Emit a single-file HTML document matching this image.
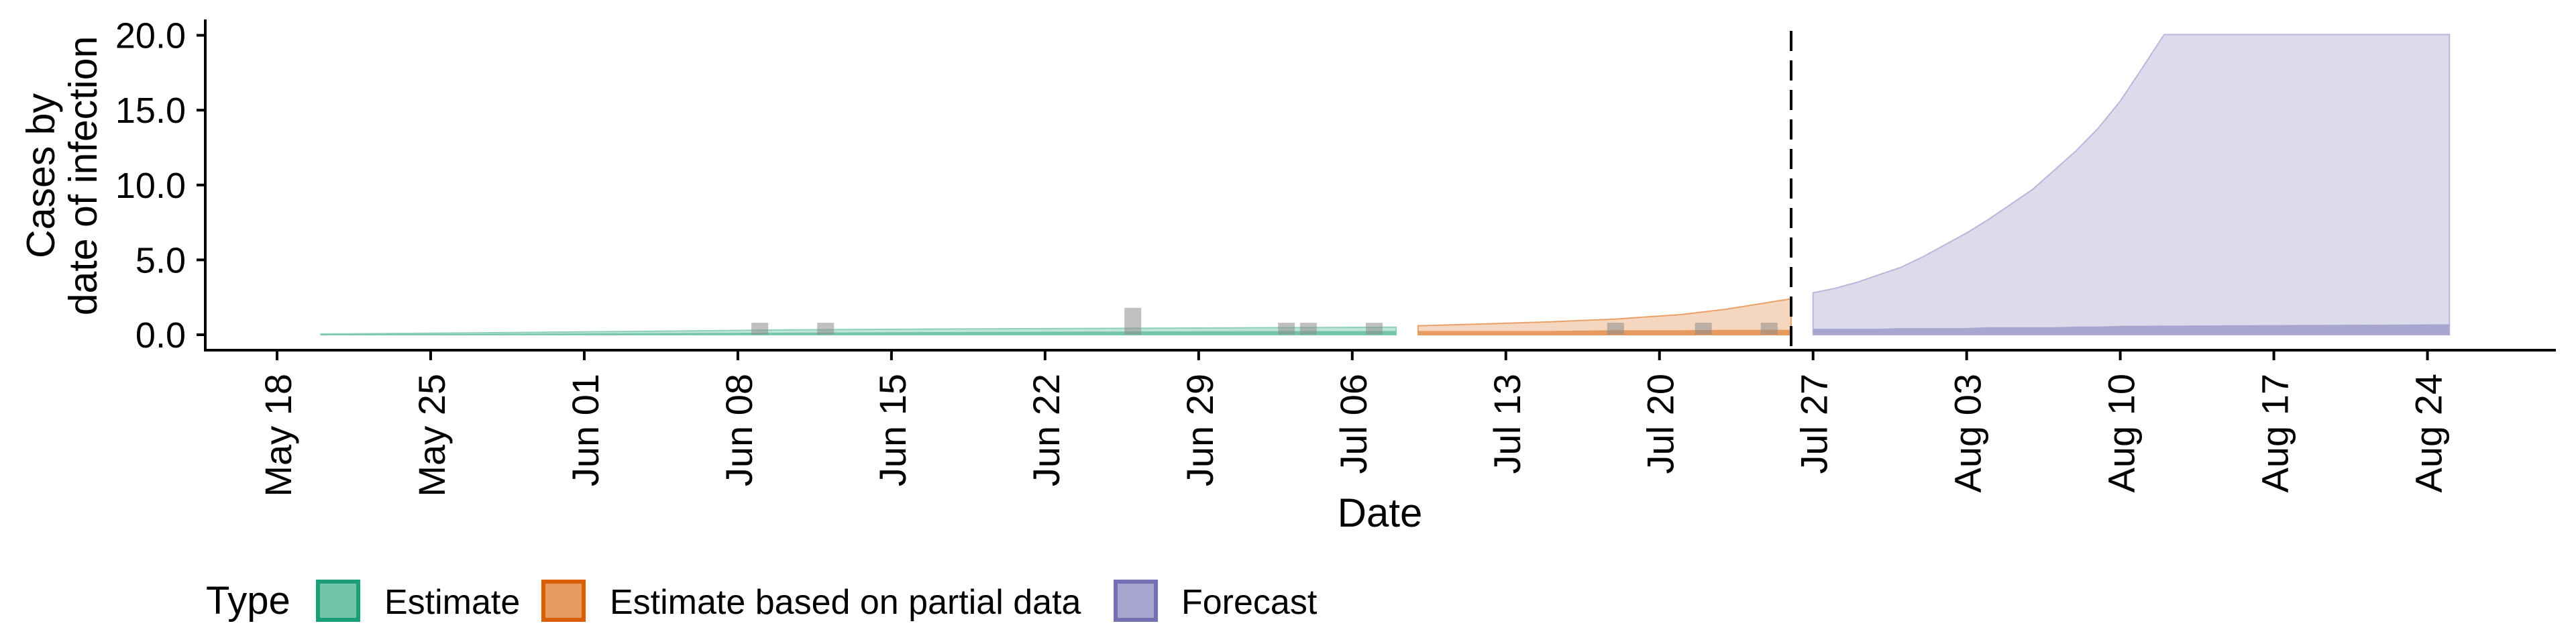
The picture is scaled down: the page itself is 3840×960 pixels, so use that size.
<!DOCTYPE html>
<html><head><meta charset="utf-8">
<style>
html,body{margin:0;padding:0;background:#fff;}
svg{display:block;font-family:"Liberation Sans",Arial,sans-serif;}
</style></head>
<body>
<svg id="chart" width="3840" height="960" viewBox="0 0 3840 960" xmlns="http://www.w3.org/2000/svg">
<g id="plot"></g>
<g id="axes"></g>
<text transform="translate(81,262) rotate(-90)" text-anchor="middle" font-size="59">Cases by</text>
<text transform="translate(144,262) rotate(-90)" text-anchor="middle" font-size="59">date of infection</text>
<text x="2057" y="785" text-anchor="middle" font-size="60">Date</text>
<g transform="translate(0,5)">
  <text x="307" y="910" font-size="58">Type</text>
  <g>
    <rect x="474" y="862" width="60" height="57" fill="#72c4aa" stroke="#1b9e77" stroke-width="6"/>
    <text x="573" y="910" font-size="52">Estimate</text>
  </g>
  <g>
    <rect x="810" y="862" width="60" height="57" fill="#e69a5f" stroke="#d95f02" stroke-width="6"/>
    <text x="909" y="910" font-size="52">Estimate based on partial data</text>
  </g>
  <g>
    <rect x="1663" y="862" width="60" height="57" fill="#a8a5cf" stroke="#7570b3" stroke-width="6"/>
    <text x="1761" y="910" font-size="52">Forecast</text>
  </g>
</g>
</svg>
<script>
// ---- data ----
const yTicks = [0, 5, 10, 15, 20];
const yTickLabels = ["0.0", "5.0", "10.0", "15.0", "20.0"];
const xTickDates = ["2020-05-18","2020-05-25","2020-06-01","2020-06-08","2020-06-15","2020-06-22","2020-06-29","2020-07-06","2020-07-13","2020-07-20","2020-07-27","2020-08-03","2020-08-10","2020-08-17","2020-08-24"];
const xTickLabels = ["May 18","May 25","Jun 01","Jun 08","Jun 15","Jun 22","Jun 29","Jul 06","Jul 13","Jul 20","Jul 27","Aug 03","Aug 10","Aug 17","Aug 24"];
const caseDates = ["2020-06-09","2020-06-12","2020-06-26","2020-07-03","2020-07-04","2020-07-07","2020-07-18","2020-07-22","2020-07-25"];
const caseValues = [0.8, 0.8, 1.8, 0.8, 0.8, 0.8, 0.8, 0.8, 0.8];
const estDates = ["2020-05-20","2020-05-27","2020-06-03","2020-06-10","2020-06-17","2020-06-24","2020-07-01","2020-07-08"];
const estUpper = [0.05, 0.12, 0.22, 0.32, 0.38, 0.42, 0.46, 0.5];
const estInner = [0.03, 0.06, 0.1, 0.14, 0.18, 0.21, 0.24, 0.25];
const partDates = ["2020-07-09","2020-07-12","2020-07-15","2020-07-18","2020-07-21","2020-07-23","2020-07-26"];
const partUpper = [0.6, 0.72, 0.86, 1.05, 1.35, 1.7, 2.4];
const partInner = [0.25, 0.25, 0.25, 0.3, 0.3, 0.33, 0.33];
const foreDates = ["2020-07-27","2020-07-28","2020-07-29","2020-07-30","2020-07-31","2020-08-01","2020-08-02","2020-08-03","2020-08-04","2020-08-05","2020-08-06","2020-08-07","2020-08-08","2020-08-09","2020-08-10","2020-08-11","2020-08-12","2020-08-13","2020-08-25"];
const foreUpper = [2.8, 3.1, 3.5, 4.0, 4.5, 5.2, 6.0, 6.8, 7.7, 8.7, 9.7, 11.0, 12.3, 13.8, 15.6, 17.8, 20.4, 23, 60];
const foreInner = [0.4, 0.4, 0.4, 0.4, 0.45, 0.45, 0.45, 0.45, 0.5, 0.5, 0.5, 0.5, 0.55, 0.55, 0.6, 0.6, 0.62, 0.62, 0.7];
const nowcastDate = "2020-07-26";

// ---- scales ----
const D0 = Date.UTC(2020,4,18);
function day(s){const p=s.split("-");return (Date.UTC(+p[0],+p[1]-1,+p[2])-D0)/86400000;}
const xS = s => 413 + day(s)*32.71;
const Y0 = 499, YPU = 22.32;
const yS = v => Y0 - Math.min(v,20.05)*YPU;
const NS="http://www.w3.org/2000/svg";
function mk(tag, attrs, parent){const e=document.createElementNS(NS,tag);for(const k in attrs)e.setAttribute(k,attrs[k]);parent.appendChild(e);return e;}
const plot=document.getElementById("plot"), axes=document.getElementById("axes");

function ribbon(dates, lo, hi, fill, name, stroke){
  let d="";
  dates.forEach((t,i)=>{d+=(i?"L":"M")+xS(t).toFixed(1)+","+yS(hi[i]).toFixed(1);});
  for(let i=dates.length-1;i>=0;i--){d+="L"+xS(dates[i]).toFixed(1)+","+yS(lo?lo[i]:0).toFixed(1);}
  d+="Z";
  const p=mk("path",{d:d,fill:fill},plot);
  if(stroke){p.setAttribute("stroke",stroke);p.setAttribute("stroke-width","2");}
  
  
}
ribbon(estDates,null,estUpper,"#c0e6da","estimate-outer-ribbon","#8fd0bb");
ribbon(estDates,null,estInner,"#72c4aa","estimate-inner-ribbon");
ribbon(partDates,null,partUpper,"#f5d7bf","partial-outer-ribbon","#eba06a");
ribbon(partDates,null,partInner,"#e69a5f","partial-inner-ribbon");
ribbon(foreDates,null,foreUpper,"#dcdbeb","forecast-outer-ribbon","#b9b6da");
ribbon(foreDates,null,foreInner,"#a8a5cf","forecast-inner-ribbon");

caseDates.forEach((t,i)=>{
  const r=mk("rect",{x:xS(t)-12.5,y:yS(caseValues[i]),width:25,height:caseValues[i]*YPU,fill:"rgba(140,140,140,0.55)"},plot);
  
  
});

const nx=xS(nowcastDate);
const vl=mk("line",{x1:nx,x2:nx,y1:46,y2:522,stroke:"#000","stroke-width":4,"stroke-dasharray":"30 14"},plot);



// axes
const ya=mk("line",{x1:306,x2:306,y1:29,y2:524,stroke:"#000","stroke-width":4},axes);


const xa=mk("line",{x1:304,x2:3810,y1:522,y2:522,stroke:"#000","stroke-width":4},axes);


yTicks.forEach((v,i)=>{
  const y=yS(v);
  const tk=mk("line",{x1:293,x2:306,y1:y,y2:y,stroke:"#000","stroke-width":4},axes);
  
  
  const tx=mk("text",{x:277,y:y+19,"text-anchor":"end","font-size":54},axes);
  tx.textContent=yTickLabels[i];
  
  
});
xTickDates.forEach((t,i)=>{
  const x=xS(t);
  const tk=mk("line",{x1:x,x2:x,y1:522,y2:537,stroke:"#000","stroke-width":4},axes);
  
  
  const tx=mk("text",{transform:"translate("+(x+21)+",557) rotate(-90)","text-anchor":"end","font-size":56},axes);
  tx.textContent=xTickLabels[i];
  
  
});
</script>
</body></html>
